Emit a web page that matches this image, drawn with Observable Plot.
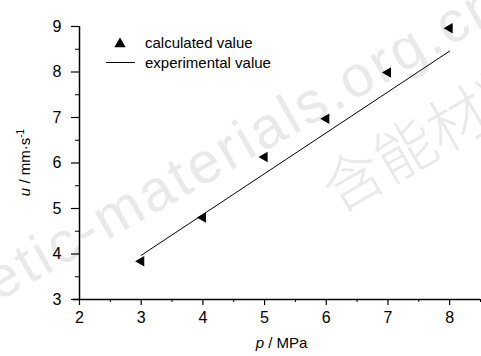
<!DOCTYPE html>
<html>
<head>
<meta charset="utf-8">
<script src="https://cdn.jsdelivr.net/npm/d3@7"></script>
<script src="https://cdn.jsdelivr.net/npm/@observablehq/plot@0.6"></script>
<style>
  html, body { margin: 0; padding: 0; background: #fff; }
  #chart svg { display: block; font-family: "Liberation Sans", Arial, sans-serif; }
</style>
</head>
<body>
<div id="chart"></div>
<script>
// ---- data ----
const xTicks = [2, 3, 4, 5, 6, 7, 8];
const xMinor = [2.5, 3.5, 4.5, 5.5, 6.5, 7.5, 8.5];
const yTicks = [3, 4, 5, 6, 7, 8, 9];
const yMinor = [3.5, 4.5, 5.5, 6.5, 7.5, 8.5];
const pCalc = [3, 4, 5, 6, 7, 8];
const uCalc = [3.84, 4.80, 6.13, 6.97, 7.99, 8.96];
const pExp = [3, 8];
const uExp = [3.97, 8.46];
const legendLabels = ["calculated value", "experimental value"];
const xLabel = ["p", " / MPa"];
const yLabel = ["u", " / mm·s", "-1"];

const calc = pCalc.map((p, i) => ({p, u: uCalc[i]}));
const exp = pExp.map((p, i) => ({p, u: uExp[i]}));

const plot = Plot.plot({
  width: 481,
  height: 356,
  marginLeft: 79,
  marginRight: 1,
  marginTop: 26,
  marginBottom: 57,
  style: {fontFamily: "'Liberation Sans', Arial, sans-serif", fontSize: "16px", color: "#000", background: "#fff"},
  x: {domain: [2, 8.5]},
  y: {domain: [3, 9]},
  marks: [
    Plot.axisX({ticks: xTicks, tickSize: 6, tickPadding: 6, tickFormat: d => String(d), label: null, fontSize: 16, stroke: "#000", strokeWidth: 1.2, strokeOpacity: 1}),
    Plot.axisX({ticks: xMinor, tickSize: 3, tickFormat: () => "", label: null, stroke: "#000", strokeOpacity: 1}),
    Plot.axisY({ticks: yTicks, tickSize: 8, tickPadding: 10, tickFormat: d => String(d), label: null, fontSize: 16, stroke: "#000", strokeWidth: 1.2, strokeOpacity: 1}),
    Plot.axisY({ticks: yMinor, tickSize: 4, tickFormat: () => "", label: null, stroke: "#000", strokeOpacity: 1}),
    Plot.ruleX([2], {y1: 3, y2: 9, stroke: "#000", strokeWidth: 1.5}),
    Plot.ruleY([3], {x1: 1.9, x2: 8.5, stroke: "#000", strokeWidth: 1.5}),
    Plot.line(exp, {x: "p", y: "u", stroke: "#000", strokeWidth: 1}),
    Plot.dot(calc, {x: "p", y: "u", symbol: "triangle", rotate: -90, r: 3.9, fill: "#000", stroke: "none"})
  ]
});

document.getElementById("chart").appendChild(plot);

const svg = d3.select(plot);
const xs = plot.scale("x"), ys = plot.scale("y");

// watermark (behind everything)
const wm = svg.insert("g", ":first-child")
  .attr("fill", "#e9e9e9")
  .attr("text-anchor", "start")
  .attr("font-family", "'Liberation Sans', Arial, sans-serif");
wm.append("text")
  .attr("transform", "translate(-2,302) rotate(-29.5)")
  .attr("font-size", 58)
  .attr("letter-spacing", 3)
  .text("etic-materials.org.cn");
wm.append("text")
  .attr("transform", "translate(338,214) rotate(-30)")
  .attr("font-size", 60)
  .attr("font-family", "'Noto Sans CJK SC', sans-serif")
  .attr("font-weight", 300)
  .text("含能材料");

// x label
const xl = svg.append("text")
  .attr("x", (xs.apply(2) + xs.apply(8.5)) / 2 + 2)
  .attr("y", 348)
  .attr("text-anchor", "middle")
  .attr("font-size", 15)
  .attr("fill", "#000");
xl.append("tspan").attr("font-style", "italic").text(xLabel[0]);
xl.append("tspan").text(xLabel[1]);

// y label
const yl = svg.append("text")
  .attr("transform", `translate(30,${(ys.apply(3) + ys.apply(9)) / 2}) rotate(-90)`)
  .attr("text-anchor", "middle")
  .attr("font-size", 15)
  .attr("fill", "#000");
yl.append("tspan").attr("font-style", "italic").text(yLabel[0]);
yl.append("tspan").text(yLabel[1]);
yl.append("tspan").attr("font-size", 10).attr("dy", -6).text(yLabel[2]);

// legend
const lg = svg.append("g").attr("font-size", 15).attr("fill", "#000").attr("text-anchor", "start");
lg.append("path")
  .attr("transform", "translate(120,44)")
  .attr("d", d3.symbol(d3.symbolTriangle, 55)());
lg.append("line").attr("x1", 106).attr("x2", 135).attr("y1", 62.5).attr("y2", 62.5)
  .attr("stroke", "#000").attr("stroke-width", 1);
lg.append("text").attr("x", 145).attr("y", 43).attr("dy", "0.35em").text(legendLabels[0]);
lg.append("text").attr("x", 145).attr("y", 62.5).attr("dy", "0.35em").text(legendLabels[1]);
</script>
</body>
</html>
